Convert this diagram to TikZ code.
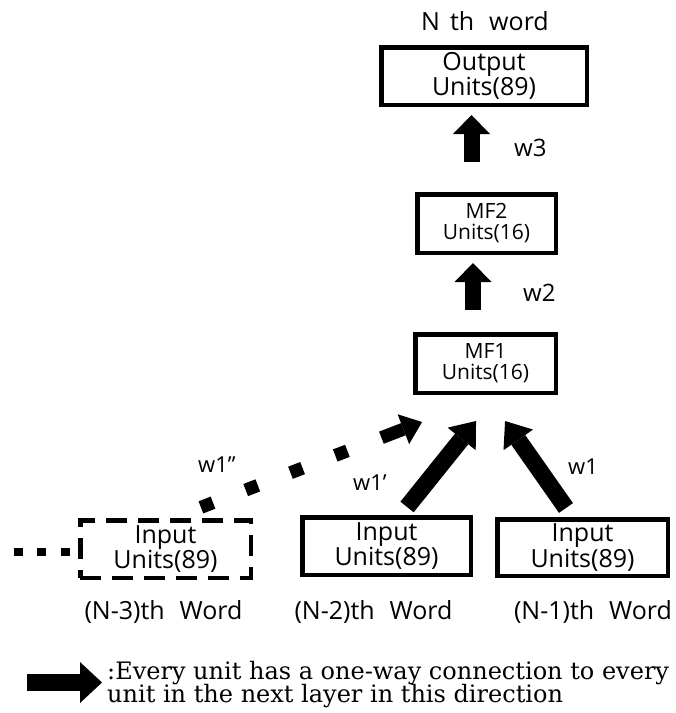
\documentclass[tikz,border=0pt]{standalone}
\usepackage{fontspec}
\setmainfont{Open Sans}
\newfontfamily\legendfont{DejaVu Serif}
\usetikzlibrary{arrows.meta,calc}

\begin{document}
\begin{tikzpicture}[x=1pt,y=-1pt,
  unitbox/.style={draw, line width=4.5pt, inner sep=0pt, align=center},
  bigtext/.style={font=\fontsize{25}{22}\selectfont},
  midtext/.style={font=\fontsize{21}{21}\selectfont},
  intext/.style={font=\fontsize{25}{24}\selectfont},
  wordlabel/.style={inner sep=0pt, font=\fontsize{25}{25}\selectfont},
  wlabel/.style={inner sep=0pt, anchor=west, font=\fontsize{24}{24}\selectfont},
  wsmall/.style={inner sep=0pt, anchor=west, font=\fontsize{22}{22}\selectfont},
  vertarrow/.style={line width=16pt, -{Triangle[length=19pt,width=37pt,line width=0pt]}},
  diagarrow/.style={line width=17pt, -{Triangle[length=23pt,width=36pt,line width=0pt]}},
  dotarrow/.style={line width=13pt, -{Triangle[length=20pt,width=32pt,line width=0pt]}},
  squaredots/.style={line width=13pt, dash pattern=on 13pt off 35pt},
  leftdots/.style={line width=8pt, dash pattern=on 9pt off 14.5pt},
  legarrow/.style={line width=17pt, -{Triangle[length=22pt,width=41pt,line width=0pt]}},
  legtext/.style={inner sep=0pt, anchor=base west, font=\legendfont\fontsize{24}{24}\selectfont}
]
\useasboundingbox (0,0) rectangle (676,713);

% layers
\node[unitbox, bigtext, minimum width=205.5pt, minimum height=57.5pt] (out) at (484,76) {Output\\Units(89)};
\node[unitbox, midtext, minimum width=138.5pt, minimum height=58.5pt] (mf2) at (486.5,223.5) {MF2\\Units(16)};
\node[unitbox, midtext, minimum width=140.5pt, minimum height=58.5pt] (mf1) at (485.5,363.5) {MF1\\Units(16)};
\node[unitbox, intext, dash pattern=on 21pt off 11pt, minimum width=170.5pt, minimum height=57.5pt] (n3) at (165.5,549) {Input\\Units(89)};
\node[unitbox, intext, minimum width=168.5pt, minimum height=57.5pt] (n2) at (386.5,546) {Input\\Units(89)};
\node[unitbox, intext, minimum width=170.5pt, minimum height=56.5pt] (n1) at (582.5,547.5) {Input\\Units(89)};

% captions
\node[wordlabel] (nth) at (485,21.5) {N\hspace{0.4em}th\hspace{0.6em}word};
\node[wordlabel] (c3) at (163.5,612) {(N-3)th\hspace{0.6em}Word};
\node[wordlabel] (c2) at (373.5,612) {(N-2)th\hspace{0.6em}Word};
\node[wordlabel] (c1) at (593,612) {(N-1)th\hspace{0.6em}Word};

% weight labels
\node[wlabel] (w3) at (514,148) {w3};
\node[wlabel] (w2) at (523,293) {w2};
\node[wsmall] (w1) at (568,467) {w1};
\node[wsmall] (w1a) at (353,483) {w1'};
\node[wsmall] (w1b) at (198,465) {w1''};

% vertical connections
\coordinate (a3) at ($(mf2.north)+(-15,0)$);
\draw[vertarrow, shorten <=30pt, shorten >=8pt] (a3) -- (a3 |- out.south);
\coordinate (a2) at ($(mf1.north)+(-12.5,0)$);
\draw[vertarrow, shorten <=22pt, shorten >=8pt] (a2) -- (a2 |- mf2.south);

% input connections
\draw[diagarrow, shorten <=10.3pt, shorten >=33.3pt] ($(n2.north)+(14.1,0)$) -- ($(mf1.south)+(11.4,0)$);
\draw[diagarrow, shorten <=11pt, shorten >=31.8pt] ($(n1.north)+(-10.2,0)$) -- ($(mf1.south)+(1.3,0)$);
\draw[squaredots, shorten <=29.6pt, shorten >=153.5pt] ($(n3.north)+(7.8,0)$) -- ($(mf1.south)+(6.5,0)$);
\draw[dotarrow, shorten <=223.1pt, shorten >=75pt] ($(n3.north)+(7.8,0)$) -- ($(mf1.south)+(6.5,0)$);

% earlier words
\coordinate (dotstart) at (13.5,552);
\draw[leftdots] (dotstart) -- (dotstart -| n3.west);

% legend
\coordinate (legtail) at (27,682.5);
\coordinate (legtip) at (102,682.5);
\draw[legarrow] (legtail) -- (legtip);
\node[legtext] (leg1) at (107,679) {:Every unit has a one-way connection to every};
\node[legtext] (leg2) at (107,702) {unit in the next layer in this direction};
\end{tikzpicture}
\end{document}
